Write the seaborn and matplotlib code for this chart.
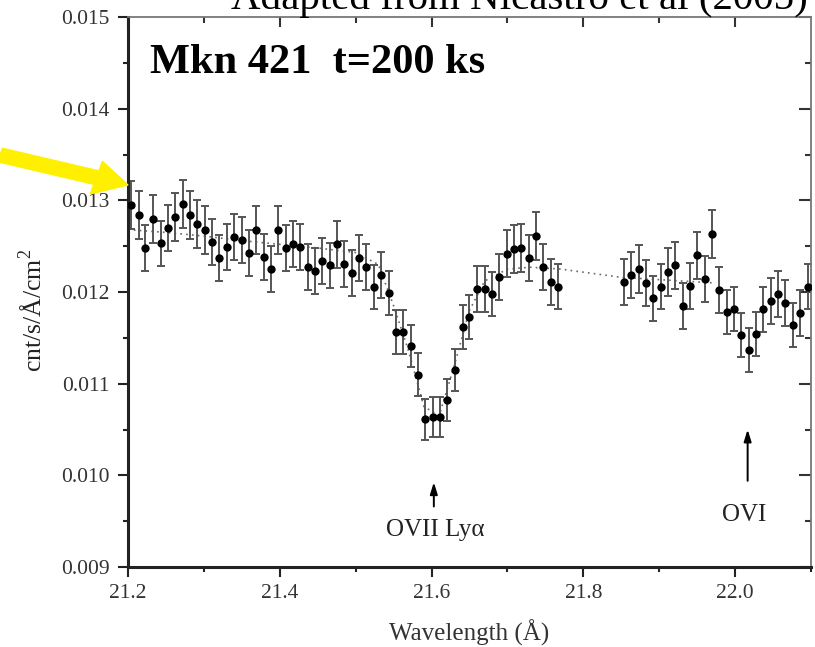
import numpy as np
import pandas as pd
import matplotlib
matplotlib.use("Agg")
import matplotlib.pyplot as plt
import seaborn as sns
from matplotlib.patches import FancyArrow

# ---------------- data ----------------
wavelength = [21.204, 21.214, 21.223, 21.233, 21.243, 21.253, 21.262, 21.272, 21.282, 21.291,
              21.301, 21.311, 21.320, 21.330, 21.340, 21.350, 21.359, 21.369, 21.379, 21.388,
              21.398, 21.408, 21.417, 21.427, 21.437, 21.447, 21.456, 21.466, 21.476, 21.485,
              21.495, 21.505, 21.514, 21.524, 21.534, 21.544, 21.553, 21.563, 21.573, 21.582,
              21.592, 21.602, 21.611, 21.621, 21.631, 21.641, 21.650, 21.660, 21.670, 21.679,
              21.689, 21.699, 21.708, 21.718, 21.728, 21.738, 21.747, 21.757, 21.767,
              21.853, 21.863, 21.873, 21.882, 21.892, 21.902, 21.911, 21.921, 21.931, 21.941,
              21.950, 21.960, 21.970, 21.979, 21.989, 21.999, 22.008, 22.018, 22.028, 22.037,
              22.047, 22.057, 22.066, 22.076, 22.086, 22.096]
counts = [0.01295, 0.01284, 0.01248, 0.01280, 0.01253, 0.01270, 0.01282, 0.01296, 0.01284, 0.01274,
          0.01268, 0.01255, 0.01237, 0.01249, 0.01260, 0.01257, 0.01243, 0.01268, 0.01238, 0.01225,
          0.01268, 0.01248, 0.01252, 0.01249, 0.01227, 0.01223, 0.01234, 0.01229, 0.01252, 0.01231,
          0.01221, 0.01237, 0.01227, 0.01206, 0.01219, 0.01199, 0.01156, 0.01156, 0.01141, 0.01110,
          0.01061, 0.01064, 0.01064, 0.01082, 0.01115, 0.01162, 0.01173, 0.01203, 0.01203, 0.01198,
          0.01216, 0.01242, 0.01247, 0.01248, 0.01237, 0.01261, 0.01227, 0.01211, 0.01206,
          0.01211, 0.01219, 0.01225, 0.01210, 0.01193, 0.01206, 0.01222, 0.01229, 0.01185, 0.01207,
          0.01240, 0.01214, 0.01263, 0.01202, 0.01178, 0.01181, 0.01153, 0.01137, 0.01154, 0.01181,
          0.01190, 0.01198, 0.01188, 0.01164, 0.01177, 0.01206]
errors = [0.00026, 0.00026, 0.00025, 0.00026, 0.00025, 0.00025, 0.00026, 0.00026, 0.00026, 0.00026,
          0.00026, 0.00025, 0.00025, 0.00025, 0.00025, 0.00025, 0.00025, 0.00026, 0.00025, 0.00025,
          0.00026, 0.00025, 0.00025, 0.00025, 0.00025, 0.00025, 0.00025, 0.00025, 0.00026, 0.00025,
          0.00025, 0.00025, 0.00025, 0.00024, 0.00025, 0.00024, 0.00024, 0.00024, 0.00023, 0.00023,
          0.00022, 0.00022, 0.00022, 0.00023, 0.00023, 0.00024, 0.00024, 0.00025, 0.00025, 0.00024,
          0.00025, 0.00026, 0.00026, 0.00026, 0.00025, 0.00026, 0.00025, 0.00025, 0.00025,
          0.00025, 0.00025, 0.00026, 0.00025, 0.00025, 0.00025, 0.00026, 0.00026, 0.00025, 0.00025,
          0.00026, 0.00025, 0.00026, 0.00025, 0.00024, 0.00024, 0.00024, 0.00024, 0.00024, 0.00025,
          0.00025, 0.00025, 0.00025, 0.00024, 0.00025, 0.00025]

model_wavelength = [21.20, 21.25, 21.30, 21.35, 21.40, 21.45, 21.50, 21.53, 21.55, 21.57,
                    21.59, 21.61, 21.63, 21.65, 21.67, 21.70, 21.73, 21.77, 21.85, 21.97]
model_counts = [0.01268, 0.01265, 0.01261, 0.01256, 0.01252, 0.01248, 0.01243, 0.01230, 0.01185, 0.01135,
                0.01075, 0.01065, 0.01120, 0.01180, 0.01212, 0.01225, 0.01227, 0.01225, 0.01216, 0.01210]

x_ticks = [21.2, 21.4, 21.6, 21.8, 22.0]
x_tick_labels = ["21.2", "21.4", "21.6", "21.8", "22.0"]
x_minor = [21.3, 21.5, 21.7, 21.9, 22.1]
y_ticks = [0.009, 0.010, 0.011, 0.012, 0.013, 0.014, 0.015]
y_tick_labels = ["0.009", "0.010", "0.011", "0.012", "0.013", "0.014", "0.015"]
y_minor = [0.0095, 0.0105, 0.0115, 0.0125, 0.0135, 0.0145]

df = pd.DataFrame({"wavelength": wavelength, "counts": counts, "err": errors})
model = pd.DataFrame({"wavelength": model_wavelength, "counts": model_counts})

# ---------------- figure ----------------
sns.set_style("white")
plt.rcParams["font.family"] = ["Liberation Serif", "DejaVu Serif"]
plt.rcParams["mathtext.fontset"] = "custom"
plt.rcParams["mathtext.rm"] = "Liberation Serif"

W, H = 815, 647
fig = plt.figure(figsize=(W / 100, H / 100), dpi=100)
ax = fig.add_axes([128 / W, 1 - 567 / H, (811 - 128) / W, (567 - 17) / H])

sns.lineplot(data=model, x="wavelength", y="counts", ax=ax, color="#6a6a6a",
             linestyle=(0, (1, 2.5)), linewidth=1.2, zorder=1)
ax.errorbar(df["wavelength"], df["counts"], yerr=df["err"], fmt="none",
            ecolor="#555555", elinewidth=1.4, capsize=2.8, capthick=1.4, zorder=2)
sns.scatterplot(data=df, x="wavelength", y="counts", ax=ax, color="black",
                s=36, edgecolor="black", linewidth=0, zorder=3)

ax.set_xlim(21.2, 22.1)
ax.set_ylim(0.009, 0.015)
ax.set_xticks(x_ticks)
ax.set_xticklabels(x_tick_labels)
ax.set_yticks(y_ticks)
ax.set_yticklabels(y_tick_labels)
ax.set_xticks(x_minor, minor=True)
ax.set_yticks(y_minor, minor=True)

ax.tick_params(which="both", bottom=True, left=True, top=False, right=False)
ax.tick_params(which="major", direction="out", length=7.5, width=1.5, color="#222222",
               labelsize=15.5, labelcolor="#333333")
ax.tick_params(axis="y", which="major", pad=6)
ax.tick_params(axis="x", which="major", pad=5)
ax.tick_params(which="minor", direction="out", length=3.8, width=1.5, color="#222222")

ax.set_xlabel("Wavelength (Å)", fontsize=18, color="#333333", labelpad=12)
ax.set_ylabel("cnt/s/Å/cm$^2$", fontsize=18.5, color="#222222")
ax.yaxis.set_label_coords(-0.119, 0.467)

for s in ["left", "bottom"]:
    ax.spines[s].set_linewidth(2.2)
    ax.spines[s].set_color("#222222")
for s in ["top", "right"]:
    ax.spines[s].set_linewidth(1.3)
    ax.spines[s].set_color("#777777")

# inward ticks on top and right
sec_x = ax.secondary_xaxis("top")
sec_x.set_xticks(x_ticks)
sec_x.set_xticks(x_minor[:-1], minor=True)
sec_x.set_xticklabels([])
sec_x.tick_params(which="both", direction="in", top=True, labeltop=False, color="#333333", width=1.5)
sec_x.tick_params(which="major", length=7.5)
sec_x.tick_params(which="minor", length=4)
sec_x.spines["top"].set_visible(False)
sec_y = ax.secondary_yaxis("right")
sec_y.set_yticks(y_ticks)
sec_y.set_yticks(y_minor, minor=True)
sec_y.set_yticklabels([])
sec_y.tick_params(which="both", direction="in", right=True, labelright=False, color="#333333", width=1.5)
sec_y.tick_params(which="major", length=9)
sec_y.tick_params(which="minor", length=4.5)
sec_y.spines["right"].set_visible(False)

# line annotations
ax.annotate("", xy=(21.603, 0.009955), xytext=(21.603, 0.00963),
            arrowprops=dict(arrowstyle="-|>,head_length=0.7,head_width=0.22", color="black", lw=1.4))
ax.text(21.605, 0.00940, "OVII Ly\u03b1", ha="center", va="center", fontsize=18, color="#222222")
ax.annotate("", xy=(22.0165, 0.01053), xytext=(22.0165, 0.00991),
            arrowprops=dict(arrowstyle="-|>,head_length=0.7,head_width=0.22", color="black", lw=1.4))
ax.text(22.012, 0.00957, "OVI", ha="center", va="center", fontsize=18, color="#222222")

# bold label
ax.text(150 / W, 1 - 73 / H, "Mkn 421  t=200 ks", transform=fig.transFigure,
        fontsize=30.5, fontweight="bold", color="black", ha="left", va="baseline")

# title, clipped at the top edge as in the reference
fig.text(519 / W, 1 - 9 / H, "Adapted from Nicastro et al (2005)", fontsize=29.5,
         ha="center", va="baseline", color="black")

# yellow arrow
arrow = FancyArrow(0 / W, 1 - 155 / H, 128 / W, -(30) / H, width=14 / H,
                   head_width=34 / H, head_length=33 / W, length_includes_head=True,
                   color="#FFF000", transform=fig.transFigure, figure=fig)
fig.patches.append(arrow)

fig.savefig("out.png", dpi=100)
